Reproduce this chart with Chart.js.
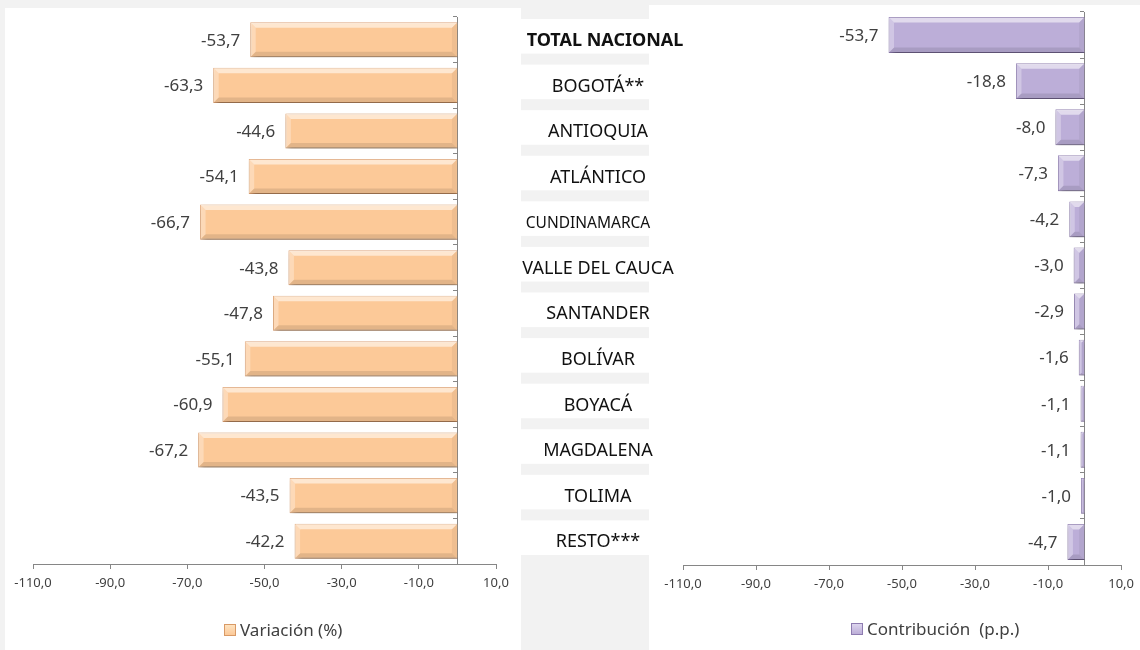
<!DOCTYPE html>
<html>
<head>
<meta charset="utf-8">
<script src="https://cdn.jsdelivr.net/npm/chart.js@4.4.0/dist/chart.umd.min.js"></script>
<style>
  body { margin: 0; width: 1140px; height: 650px; background: #f2f2f2; position: relative; overflow: hidden; font-family: "Noto Sans", sans-serif; }
  .panel { position: absolute; background: #fff; }
  #panelIzq { left: 5px; top: 8px; width: 516px; height: 642px; }
  #panelDer { left: 649px; top: 5px; width: 491px; height: 645px; }
  #wrapIzq { position: absolute; left: 0; top: 0; width: 700px; height: 650px; z-index: 2; }
  #wrapDer { position: absolute; left: 649px; top: 0; width: 491px; height: 650px; z-index: 1; }
  .leyenda { position: absolute; z-index: 3; font-size: 17px; color: #404040; display: flex; align-items: center; white-space: pre; }
  .leyenda i { display: inline-block; width: 10px; height: 10px; margin-right: 4px; border: 1px solid; }
</style>
</head>
<body>
<div class="panel" id="panelIzq"></div>
<div class="panel" id="panelDer"></div>
<div id="wrapIzq"><canvas id="chartVariacion"></canvas></div>
<div id="wrapDer"><canvas id="chartContribucion"></canvas></div>
<div class="leyenda" style="left:224px; top:618px;"><i style="background:linear-gradient(#fee3c0,#fcc998); border-color:#d99a66;"></i>Variación (%)</div>
<div class="leyenda" style="left:851px; top:617px;"><i style="background:linear-gradient(#ddd5ee,#bcaed8); border-color:#8e7cb0;"></i>Contribución  (p.p.)</div>
<script>
var categorias = ['TOTAL NACIONAL', 'BOGOTÁ**', 'ANTIOQUIA', 'ATLÁNTICO', 'CUNDINAMARCA', 'VALLE DEL CAUCA',
                  'SANTANDER', 'BOLÍVAR', 'BOYACÁ', 'MAGDALENA', 'TOLIMA', 'RESTO***'];
var variacion = [-53.7, -63.3, -44.6, -54.1, -66.7, -43.8, -47.8, -55.1, -60.9, -67.2, -43.5, -42.2];
var contribucion = [-53.7, -18.8, -8.0, -7.3, -4.2, -3.0, -2.9, -1.6, -1.1, -1.1, -1.0, -4.7];
var ticksEje = [-110, -90, -70, -50, -30, -10, 10];

function coma(v) { return v.toFixed(1).replace('.', ','); }

// sombra y bisel de las barras
var bisel = {
  id: 'bisel',
  beforeDatasetDraw: function (chart) {
    var c = chart.ctx;
    c.save();
    c.shadowColor = 'rgba(0,0,0,0.4)';
    c.shadowBlur = 5;
    c.shadowOffsetX = 2;
    c.shadowOffsetY = 3;
  },
  afterDatasetDraw: function (chart, args) {
    var c = chart.ctx;
    c.restore();
    function poly(pts, color) {
      c.beginPath();
      c.moveTo(pts[0][0], pts[0][1]);
      for (var k = 1; k < pts.length; k++) c.lineTo(pts[k][0], pts[k][1]);
      c.closePath();
      c.fillStyle = color;
      c.fill();
    }
    args.meta.data.forEach(function (bar) {
      var p = bar.getProps(['x', 'y', 'base', 'height'], true);
      var l = Math.min(p.x, p.base) + 0.5, r = Math.max(p.x, p.base) - 0.5;
      var t = p.y - p.height / 2 + 0.5, b = p.y + p.height / 2 - 0.5;
      var e = Math.min(5, (r - l) / 2);
      poly([[l, t], [r, t], [r - e, t + e], [l + e, t + e]], 'rgba(255,255,255,0.55)');
      poly([[l, t], [l + e, t + e], [l + e, b - e], [l, b]], 'rgba(255,255,255,0.3)');
      poly([[l, b], [l + e, b - e], [r - e, b - e], [r, b]], 'rgba(0,0,0,0.1)');
      poly([[r, t], [r, b], [r - e, b - e], [r - e, t + e]], 'rgba(0,0,0,0.05)');
    });
  }
};

// valor a la izquierda de cada barra
var valores = {
  id: 'valores',
  afterDatasetsDraw: function (chart) {
    var c = chart.ctx;
    var meta = chart.getDatasetMeta(0);
    var datos = chart.data.datasets[0].data;
    c.save();
    c.font = '17px "Noto Sans"';
    c.fillStyle = '#404040';
    c.textAlign = 'right';
    c.textBaseline = 'middle';
    meta.data.forEach(function (bar, i) {
      var l = Math.min(bar.x, bar.base);
      c.fillText(coma(datos[i]), l - 10, bar.y + 1);
    });
    c.restore();
  }
};

// columna central con los nombres de los departamentos
var nombres = {
  id: 'nombres',
  afterDraw: function (chart) {
    var c = chart.ctx;
    var y = chart.scales.y;
    var paso = (y.bottom - y.top) / categorias.length;
    c.save();
    categorias.forEach(function (nombre, i) {
      var cy = y.getPixelForValue(i);
      var t = cy - paso / 2, b = cy + paso / 2;
      c.fillStyle = '#ffffff';
      c.fillRect(521, t + 2, 128, b - t - 11);
      var cx = 598;
      if (i === 0) { c.font = 'bold 18px "Noto Sans"'; cx = 605; }
      else if (nombre === 'CUNDINAMARCA') { c.font = '15.5px "Noto Sans"'; cx = 588; }
      else c.font = '18px "Noto Sans"';
      c.fillStyle = '#111111';
      c.textAlign = 'center';
      c.textBaseline = 'middle';
      c.fillText(nombre, cx, cy + 1);
    });
    c.restore();
  }
};

function opciones(pad, altoEje) {
  return {
    indexAxis: 'y',
    responsive: true,
    maintainAspectRatio: false,
    animation: false,
    layout: { padding: pad },
    plugins: { legend: { display: false }, tooltip: { enabled: false } },
    scales: {
      x: {
        min: -110,
        max: 10,
        afterBuildTicks: function (s) { s.ticks = ticksEje.map(function (v) { return { value: v }; }); },
        afterFit: function (s) { s.height = altoEje; },
        border: { color: '#868686' },
        grid: { drawOnChartArea: false, color: '#868686', tickLength: 5 },
        ticks: { padding: 6, color: '#404040', font: { family: 'Noto Sans', size: 13 }, maxRotation: 0, callback: function (v) { return coma(v); } }
      },
      y: {
        position: { x: 0 },
        border: { color: '#868686' },
        grid: { drawOnChartArea: false, color: '#868686', tickLength: 4, offset: true },
        ticks: { display: false }
      }
    }
  };
}

new Chart(document.getElementById('chartVariacion'), {
  type: 'bar',
  data: {
    labels: categorias,
    datasets: [{
      label: 'Variación (%)',
      data: variacion,
      backgroundColor: '#fcc998',
      borderColor: '#e0a271',
      borderWidth: 1,
      barPercentage: 0.77,
      categoryPercentage: 1
    }]
  },
  options: opciones({ left: 33, right: 204, top: 17, bottom: 0 }, 86),
  plugins: [bisel, valores, nombres]
});

new Chart(document.getElementById('chartContribucion'), {
  type: 'bar',
  data: {
    labels: categorias,
    datasets: [{
      label: 'Contribución  (p.p.)',
      data: contribucion,
      backgroundColor: '#bcaed8',
      borderColor: '#8e7cb0',
      borderWidth: 1,
      barPercentage: 0.78,
      categoryPercentage: 1
    }]
  },
  options: opciones({ left: 34, right: 17, top: 12, bottom: 0 }, 85),
  plugins: [bisel, valores]
});
</script>
</body>
</html>
